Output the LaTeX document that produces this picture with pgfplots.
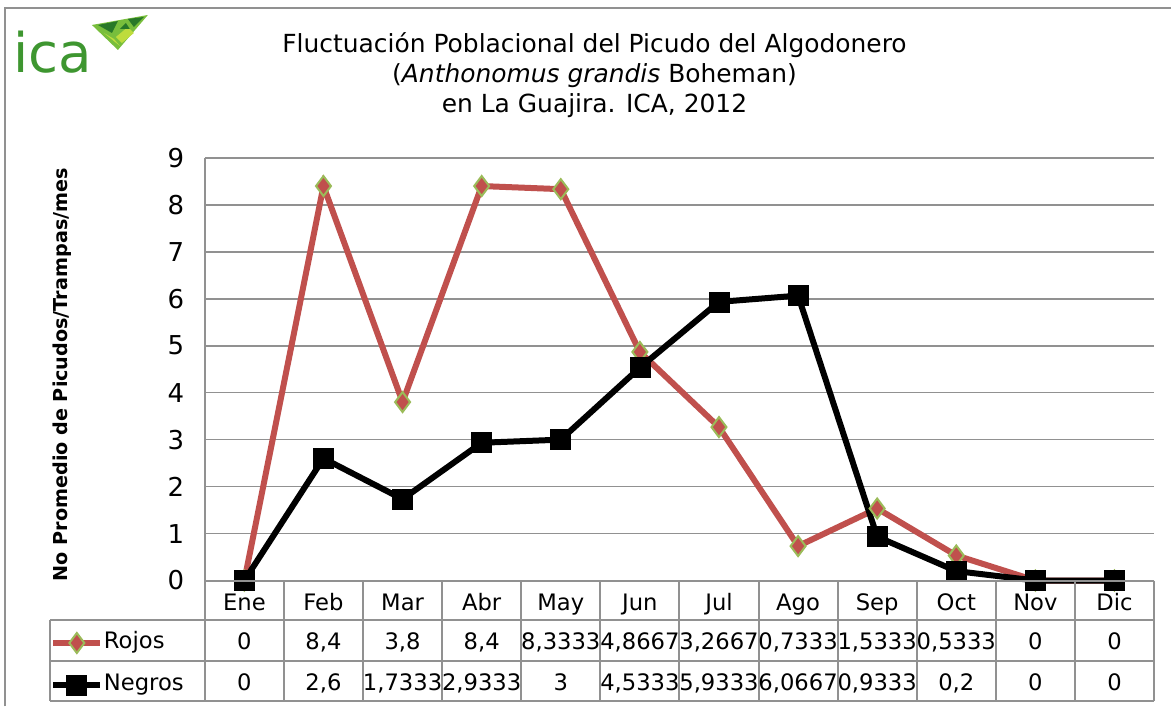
\documentclass[border=0pt]{standalone}
\usepackage{fontspec}
\setmainfont{DejaVu Sans}
\usepackage{pgfplots}
\pgfplotsset{compat=1.18}
\definecolor{rojo}{RGB}{192,80,77}
\definecolor{verde}{RGB}{155,187,89}
\definecolor{gridc}{RGB}{145,145,145}
\definecolor{icagreen}{RGB}{62,150,48}
\definecolor{g1}{RGB}{40,120,40}
\definecolor{g2}{RGB}{120,190,60}
\definecolor{g3}{RGB}{190,220,60}

\pgfplotstableread{
x rojos negros
0 0 0
1 8.4 2.6
2 3.8 1.7333
3 8.4 2.9333
4 8.3333 3
5 4.8667 4.5333
6 3.2667 5.9333
7 0.7333 6.0667
8 1.5333 0.9333
9 0.5333 0.2
10 0 0
11 0 0
}\datos

\begin{document}
\begin{tikzpicture}[x=0.75pt,y=0.75pt]
\path (0,0) rectangle (1172,707);
% outer frame
\draw[gridc, line width=1.5] (5,0) -- (5,699) -- (1172,699);
% logo
\node[anchor=base west, text=icagreen, inner sep=0pt, font=\fontsize{41}{41}\selectfont] at (13,634) {ica};
\fill[g2] (92,682) -- (148,692) -- (118,657) -- cycle;
\fill[g1] (98,682) -- (118,686) -- (112,674) -- cycle;
\fill[g3] (116,670) -- (128,680) -- (134,674) -- (122,664) -- cycle;
\fill[g1] (128,688) -- (144,690) -- (134,680) -- cycle;
\fill[g3] (104,674) -- (114,668) -- (120,661) -- cycle;
\fill[g1] (120,678) -- (126,684) -- (130,678) -- cycle;
% title
\node[align=center, font=\fontsize{18.7}{22.5}\selectfont] at (595,632)
 {Fluctuación Poblacional del Picudo del Algodonero\\(\textit{Anthonomus grandis} Boheman)\\en La Guajira. ICA, 2012};

\begin{axis}[
 at={(153.75pt,94.5pt)}, anchor=south west, scale only axis,
 width=712.5pt, height=317.25pt,
 xmin=-0.5, xmax=11.5, ymin=0, ymax=9,
 ytick={0,1,...,9}, xtick=\empty,
 axis x line*=bottom, axis y line*=left,
 axis line style={gridc, line width=1.2pt, -},
 ymajorgrids, major grid style={gridc, line width=1.2pt},
 major tick length=0pt,
 /pgf/number format/assume math mode=true,
 yticklabel style={font=\fontsize{19.5}{20}\selectfont, xshift=-12pt},
 clip=false,
 legend image code/.code={\draw[mark repeat=2,mark phase=2,#1] plot coordinates {(0pt,0pt)(17.6pt,0pt)(35.25pt,0pt)};},
 legend style={at={(axis description cs:-0.163,-0.1975)}, anchor=west, draw=none, fill=none,
   inner sep=0pt, row sep=15.5pt, font=\fontsize{17}{18}\selectfont,
   nodes={inner sep=0.5pt, text height=12pt, text depth=3pt}},
 legend cell align=left,
]
\addplot[rojo, line width=4.5pt, mark=diamond*, mark size=7.5pt,
  mark options={fill=rojo, draw=verde, line width=1.5pt}] table[x=x, y=rojos] {\datos};
\addlegendentry{Rojos}
\addplot[black, line width=4.5pt, mark=square*, mark size=7.5pt,
  mark options={fill=black, draw=black, line width=0.5pt}] table[x=x, y=negros] {\datos};
\addlegendentry{Negros}
\end{axis}

% table grid
\begin{scope}[gridc, line width=1.5]
\draw (205,126) -- (1155,126);
\draw (50,86) -- (1155,86);
\draw (50,45) -- (1155,45);
\draw (50,5) -- (1155,5);
\draw (50,86) -- (50,5);
\foreach \k in {0,...,12} {\draw (205+79.1667*\k,126) -- (205+79.1667*\k,5);}
\end{scope}
\foreach \i/\m/\r/\n in {0/Ene/0/0,1/Feb/{8,4}/{2,6},2/Mar/{3,8}/{1,7333},3/Abr/{8,4}/{2,9333},4/May/{8,3333}/3,5/Jun/{4,8667}/{4,5333},6/Jul/{3,2667}/{5,9333},7/Ago/{0,7333}/{6,0667},8/Sep/{1,5333}/{0,9333},9/Oct/{0,5333}/{0,2},10/Nov/0/0,11/Dic/0/0} {
  \node[font=\fontsize{17}{18}\selectfont, inner sep=0pt, anchor=base] at (244.6+79.1667*\i,96) {\m};
  \node[font=\fontsize{17}{18}\selectfont, inner sep=0pt, anchor=base] at (244.6+79.1667*\i,57) {\r};
  \node[font=\fontsize{17}{18}\selectfont, inner sep=0pt, anchor=base] at (244.6+79.1667*\i,16) {\n};
}
% y label
\node[rotate=90, font=\bfseries\fontsize{14.4}{15}\selectfont] at (62,332) {No Promedio de Picudos/Trampas/mes};
\end{tikzpicture}
\end{document}
